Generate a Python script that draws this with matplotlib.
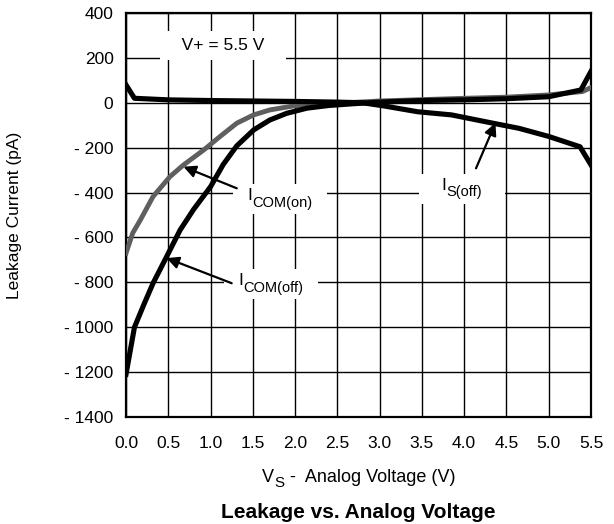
import numpy as np
import matplotlib
matplotlib.use('Agg')
import matplotlib.pyplot as plt
from matplotlib.offsetbox import TextArea, HPacker, VPacker, DrawingArea, AnnotationBbox

plt.rcParams['font.family'] = ['Liberation Sans', 'DejaVu Sans']

# ICOM(on) - grey curve
x_com_on = [0.0, 0.08, 0.17, 0.32, 0.52, 0.68, 0.92, 1.11, 1.31, 1.51, 1.7, 1.98, 2.3, 2.7, 3.0, 3.5, 4.0, 4.5, 5.0, 5.4, 5.5]
y_com_on = [-670, -580, -522, -418, -329, -277, -210, -151, -91, -54, -32, -14, -3, 2, 8, 14, 20, 25, 35, 50, 68]

# ICOM(off)
x_com_off = [0.0, 0.1, 0.21, 0.32, 0.48, 0.64, 0.8, 1.0, 1.15, 1.31, 1.51, 1.7, 1.9, 2.14, 2.4, 2.7, 3.0, 3.5, 4.0, 4.5, 5.0, 5.38, 5.5]
y_com_off = [-1210, -1000, -900, -804, -686, -567, -475, -374, -275, -192, -121, -77, -47, -24, -12, -4, 3, 10, 13, 18, 27, 57, 140]

# IS(off)
x_s_off = [0.0, 0.1, 0.5, 1.0, 1.5, 2.0, 2.5, 2.8, 3.05, 3.45, 3.85, 4.3, 4.65, 5.0, 5.37, 5.5]
y_s_off = [80, 20, 13, 10, 8, 6, 3, 0, -14, -40, -54, -88, -114, -150, -196, -277]

x_ticks = [0.0, 0.5, 1.0, 1.5, 2.0, 2.5, 3.0, 3.5, 4.0, 4.5, 5.0, 5.5]
y_ticks = [400, 200, 0, -200, -400, -600, -800, -1000, -1200, -1400]
y_tick_labels = ['400', '200', '0', '- 200', '- 400', '- 600', '- 800', '- 1000', '- 1200', '- 1400']

fig = plt.figure(figsize=(6.14, 5.24), dpi=100)
ax = fig.add_axes([126/614, 1 - 417/524, 465/614, 404/524])

ax.plot(x_com_on, y_com_on, color='#5f5f5f', lw=3.5, zorder=3, solid_joinstyle='round')
ax.plot(x_s_off, y_s_off, color='black', lw=3.7, zorder=4, solid_joinstyle='round')
ax.plot(x_com_off, y_com_off, color='black', lw=3.7, zorder=4, solid_joinstyle='round')

ax.set_xlim(0, 5.5)
ax.set_ylim(-1400, 400)
ax.set_xticks(x_ticks)
ax.set_xticklabels([f'{v:.1f}' for v in x_ticks])
ax.set_yticks(y_ticks)
ax.set_yticklabels(y_tick_labels)
ax.tick_params(axis='both', length=0, labelsize=12.5)
ax.tick_params(axis='x', pad=14)
ax.tick_params(axis='y', pad=9)
ax.grid(True, color='black', linewidth=1.0)
for s in ax.spines.values():
    s.set_linewidth(1.6)

ax.set_ylabel('Leakage Current (pA)', fontsize=12.5)
ax.yaxis.set_label_coords(-0.224, 0.5)

ax.text(1.15, 255, '   V+ = 5.5 V   ', fontsize=12.5, ha='center', va='center',
        bbox=dict(facecolor='white', edgecolor='none', pad=5), zorder=2)


def sub_text(main, sub, after='', size=12.5, side=0, drop=5.5):
    # text with a large subscript, packed side by side
    parts = [DrawingArea(side, 1), TextArea(main, textprops=dict(fontsize=size))]
    t_sub = TextArea(sub, textprops=dict(fontsize=size * 0.84))
    parts.append(VPacker(children=[DrawingArea(1, drop), t_sub], pad=0, sep=0, align='left'))
    if after:
        parts.append(TextArea(after, textprops=dict(fontsize=size)))
    parts.append(DrawingArea(side, 1))
    return HPacker(children=parts, pad=0, sep=0.3, align='top')


def sub_label(x, y, main, sub, side):
    ab = AnnotationBbox(sub_text(main, sub, side=side), (x, y), xycoords='data',
                        frameon=True, pad=0.3, box_alignment=(0.5, 0.5),
                        bboxprops=dict(facecolor='white', edgecolor='none'))
    ab.set_zorder(2)
    ax.add_artist(ab)


def arrow(tail, head):
    ax.annotate('', xy=head, xytext=tail, zorder=5,
                arrowprops=dict(arrowstyle='-|>', color='black', lw=1.6,
                                mutation_scale=18, shrinkA=0, shrinkB=0))


sub_label(1.82, -428, 'I', 'COM(on)', 7)
sub_label(1.71, -808, 'I', 'COM(off)', 7)
sub_label(3.97, -382, 'I', 'S(off)', 13)

arrow((1.31, -381), (0.68, -285))
arrow((1.25, -804), (0.48, -692))
arrow((4.14, -292), (4.37, -90))

# x axis label V_S - Analog Voltage (V)
xl = AnnotationBbox(sub_text('V', 'S', after=' -  Analog Voltage (V)', size=13, drop=4.5),
                    (0.5, -0.155), xycoords='axes fraction', frameon=False,
                    box_alignment=(0.5, 0.5), annotation_clip=False)
ax.add_artist(xl)

fig.text(358/614, 1 - 512/524, 'Leakage vs. Analog Voltage', fontsize=15,
         fontweight='bold', ha='center', va='center')

fig.savefig('out.png', dpi=100)
